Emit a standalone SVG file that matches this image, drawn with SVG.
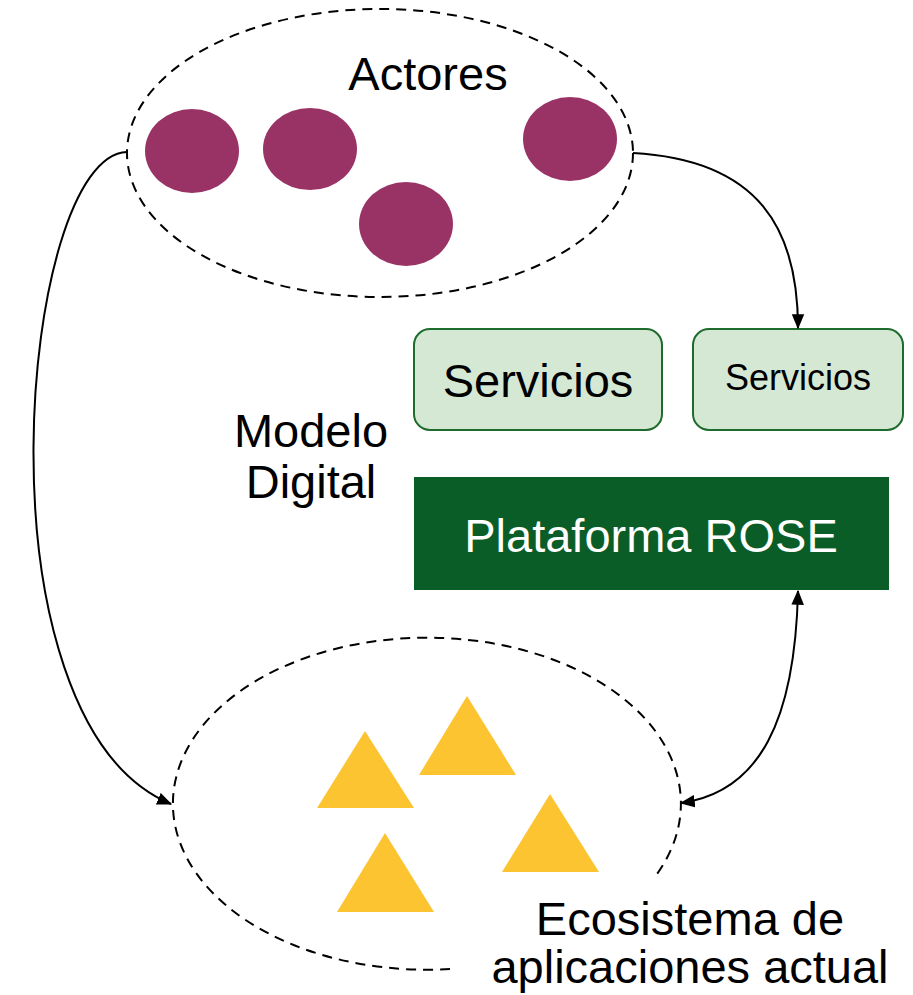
<svg xmlns="http://www.w3.org/2000/svg" width="913" height="995" viewBox="0 0 913 995">
<style>
text{font-family:"Liberation Sans",Arial,sans-serif;fill:#000}
.dash{fill:none;stroke:#000;stroke-width:2;stroke-dasharray:10 7}
.actor{fill:#993366}
.app{fill:#FCC430}
.svc{fill:#D5E8D4;stroke:#1E6B2E;stroke-width:2}
.conn{fill:none;stroke:#000;stroke-width:2}
</style>
<defs>
<marker id="arr" viewBox="0 0 12 10" refX="11" refY="5" markerWidth="15" markerHeight="13" markerUnits="userSpaceOnUse" orient="auto-start-reverse">
<path d="M0,0 L12,5 L0,10 Z" fill="#000"/>
</marker>
</defs>
<rect width="913" height="995" fill="#fff"/>
<g id="actores">
<ellipse class="dash" cx="380" cy="153" rx="253" ry="144"/>
<ellipse class="actor" cx="192" cy="151" rx="47" ry="42"/>
<ellipse class="actor" cx="310" cy="149" rx="47" ry="41"/>
<ellipse class="actor" cx="406" cy="224" rx="47" ry="42"/>
<ellipse class="actor" cx="570" cy="139" rx="47" ry="42"/>
<text x="428" y="90" font-size="47" text-anchor="middle">Actores</text>
</g>
<g id="servicios1">
<rect class="svc" x="414" y="329" width="248" height="101" rx="16"/>
<text x="538" y="397" font-size="47" text-anchor="middle">Servicios</text>
</g>
<g id="servicios2">
<rect class="svc" x="693" y="329" width="210" height="101" rx="16"/>
<text x="798" y="390" font-size="36" text-anchor="middle">Servicios</text>
</g>
<g id="plataforma">
<rect x="414" y="477" width="475" height="113" fill="#0B5D27"/>
<text x="651" y="552" font-size="47" text-anchor="middle" style="fill:#fff">Plataforma ROSE</text>
</g>
<g id="modelo">
<text x="311" y="447" font-size="47" text-anchor="middle">Modelo</text>
<text x="311" y="498" font-size="47" text-anchor="middle">Digital</text>
</g>
<g id="ecosistema">
<path class="dash" d="M 450 969 A 254 166 0 1 1 657 874"/>
<polygon class="app" points="365,731 414,808 317,808"/>
<polygon class="app" points="467,696 516,775 419,775"/>
<polygon class="app" points="550,794 599,872 502,872"/>
<polygon class="app" points="385,833 434,912 337,912"/>
<text x="690" y="935" font-size="47" text-anchor="middle">Ecosistema de</text>
<text x="690" y="983" font-size="47" text-anchor="middle">aplicaciones actual</text>
</g>
<g id="connectors">
<path class="conn" d="M 127 152 C 20 155, -30 720, 171 804" marker-end="url(#arr)"/>
<path class="conn" d="M 633 153 C 760 160, 798 230, 798 328" marker-end="url(#arr)"/>
<path class="conn" d="M 798 591 C 795 720, 760 792, 681 803" marker-start="url(#arr)" marker-end="url(#arr)"/>
</g>
</svg>
